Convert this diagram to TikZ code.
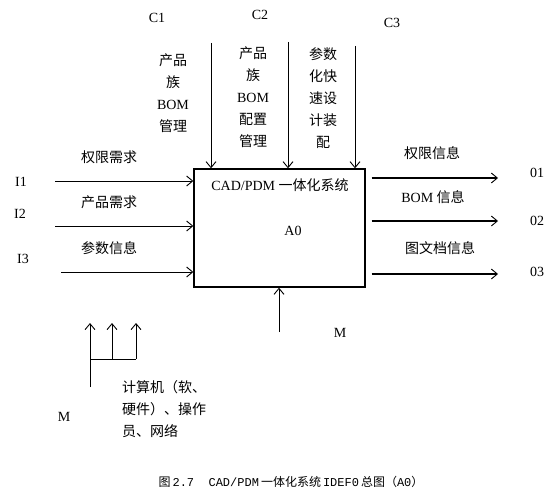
\documentclass[tikz,border=0pt]{standalone}
\usepackage{fontspec}
\setmainfont{Liberation Serif}
\newfontfamily\cjk{Noto Sans CJK SC}
\newfontfamily\capmono{Liberation Mono}
\usetikzlibrary{arrows.meta}
\begin{document}
\begin{tikzpicture}[x=1pt,y=-1pt,
  lbl/.style={inner sep=0pt, font=\fontsize{14}{22}\selectfont},
  col/.style={lbl, align=center},
  arr/.style={line width=0.9pt, -{Straight Barb[length=6pt,width=10pt]}},
  outarr/.style={line width=1.5pt, -{Straight Barb[length=6pt,width=10pt,line width=0.9pt]}},
  plain/.style={line width=0.9pt},
  sysbox/.style={draw, line width=1.4pt, minimum width=171pt, minimum height=118pt, inner sep=0pt}]
\useasboundingbox (0,0) rectangle (557,500);

% main box
\node[sysbox] (box) at (279.5,228) {};
\node[lbl] (title) at (280,185) {CAD/PDM {\cjk 一体化系统}};
\node[lbl] (a0) at (293,231) {A0};

% controls
\node[lbl] (c1) at (157,18) {C1};
\node[lbl] (c2) at (260,15) {C2};
\node[lbl] (c3) at (392,23) {C3};
\node[col] (c1t) at (173,93) {{\cjk 产品}\\{\cjk 族}\\BOM\\{\cjk 管理}};
\node[col] (c2t) at (253,97.5) {{\cjk 产品}\\{\cjk 族}\\BOM\\{\cjk 配置}\\{\cjk 管理}};
\node[col] (c3t) at (323,98) {{\cjk 参数}\\{\cjk 化快}\\{\cjk 速设}\\{\cjk 计装}\\{\cjk 配}};
\coordinate (c1s) at (211,43);
\coordinate (c2s) at (288,42);
\coordinate (c3s) at (355,46);
\draw[arr] (c1s) -- (c1s |- box.north);
\draw[arr] (c2s) -- (c2s |- box.north);
\draw[arr] (c3s) -- (c3s |- box.north);

% inputs
\node[lbl] (i1) at (21,182) {I1};
\node[lbl] (i2) at (20,214) {I2};
\node[lbl] (i3) at (23,259) {I3};
\node[lbl] (i1t) at (109,157) {\cjk 权限需求};
\node[lbl] (i2t) at (109,202) {\cjk 产品需求};
\node[lbl] (i3t) at (109,248) {\cjk 参数信息};
\coordinate (i1s) at (55,181);
\coordinate (i2s) at (55,226);
\coordinate (i3s) at (61,272);
\draw[arr] (i1s) -- (i1s -| box.west);
\draw[arr] (i2s) -- (i2s -| box.west);
\draw[arr] (i3s) -- (i3s -| box.west);

% outputs
\node[lbl] (o1t) at (432,153) {\cjk 权限信息};
\node[lbl] (o2t) at (433,197) {BOM {\cjk 信息}};
\node[lbl] (o3t) at (440,248) {\cjk 图文档信息};
\node[lbl] (o1) at (537,173) {01};
\node[lbl] (o2) at (537,221) {02};
\node[lbl] (o3) at (537,272) {03};
\coordinate (o1e) at (498,178);
\coordinate (o2e) at (498,221);
\coordinate (o3e) at (498,274);
\draw[outarr] (o1e -| box.east) ++(6,0) -- (o1e);
\draw[outarr] (o2e -| box.east) ++(6,0) -- (o2e);
\draw[outarr] (o3e -| box.east) ++(6,0) -- (o3e);

% mechanism under box
\coordinate (m0) at (279,332);
\draw[arr] (m0) -- (m0 |- box.south);
\node[lbl] (m) at (340,333) {M};

% mechanism legend
\coordinate (ma) at (90,387);
\coordinate (mb) at (90,359);
\coordinate (mc) at (112,359);
\coordinate (md) at (136,359);
\coordinate (mtop) at (90,323);
\draw[plain] (ma) -- (mb) -- (md);
\draw[arr] (mb) -- (mtop);
\draw[arr] (mc) -- (mc |- mtop);
\draw[arr] (md) -- (md |- mtop);
\node[lbl] (ml) at (64,417) {M};
\node[lbl, align=left, anchor=west] (mt) at (122,409) {{\cjk 计算机（软、}\\{\cjk 硬件）、操作}\\{\cjk 员、网络}};

% caption
\node[inner sep=0pt, font=\fontsize{12}{14}\selectfont] (cap) at (291,482)
  {{\cjk 图}\,{\capmono 2.7\ \ CAD/PDM}\,{\cjk 一体化系统}\,{\capmono IDEF0}\,{\cjk 总图（}{\capmono A0}{\cjk ）}};
\end{tikzpicture}
\end{document}
